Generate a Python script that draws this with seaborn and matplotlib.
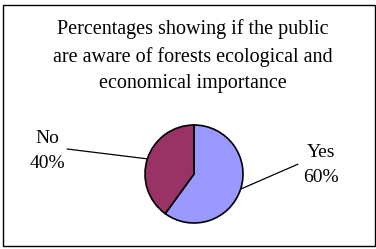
import numpy as np
import matplotlib
matplotlib.use("Agg")
import matplotlib.pyplot as plt
import seaborn as sns
from matplotlib.patches import Rectangle

categories = ["Yes", "No"]
values = [60, 40]
colors = ["#9999FF", "#993366"]
title = "Percentages showing if the public\nare aware of forests ecological and\neconomical importance"

sns.set_style("white")
plt.rcParams['font.family'] = ['Liberation Serif', 'DejaVu Serif']
plt.rcParams['text.color'] = 'black'

W, H = 376, 249
fig = plt.figure(figsize=(W / 100, H / 100), dpi=100)
fig.patch.set_facecolor("white")

cx, cy, r = 194, 174, 49
ax = fig.add_axes([(cx - r) / W, (H - cy - r) / H, 2 * r / W, 2 * r / H])
wedges, _ = ax.pie(values, colors=colors, startangle=90, counterclock=False,
                   wedgeprops=dict(edgecolor="black", linewidth=1.2))
ax.set_xlim(-1, 1)
ax.set_ylim(-1, 1)
ax.set_aspect("equal")
ax.axis("off")

label_pos = {"Yes": (2.6, 0.18), "No": (-3.0, 0.47)}
line_end = {"Yes": (2.12, 0.2), "No": (-2.59, 0.51)}
for w, cat, v in zip(wedges, categories, values):
    ang = np.deg2rad((w.theta1 + w.theta2) / 2)
    px, py = np.cos(ang), np.sin(ang)
    ex, ey = line_end[cat]
    ax.plot([px, ex], [py, ey], color="black", lw=0.9, clip_on=False)
    tx, ty = label_pos[cat]
    ax.text(tx, ty, f"{cat}\n{v}%", ha="center", va="center", fontsize=14,
            linespacing=1.62, color="black", clip_on=False)

fig.text(193 / W, 1 - 56 / H, title, ha="center", va="center", fontsize=14.5,
         linespacing=1.55, color="black")

fig.add_artist(Rectangle((3 / W, 3 / H), 371.5 / W, 241 / H, transform=fig.transFigure,
                         fill=False, edgecolor="black", lw=1.0))

fig.savefig("out.png", dpi=100)
